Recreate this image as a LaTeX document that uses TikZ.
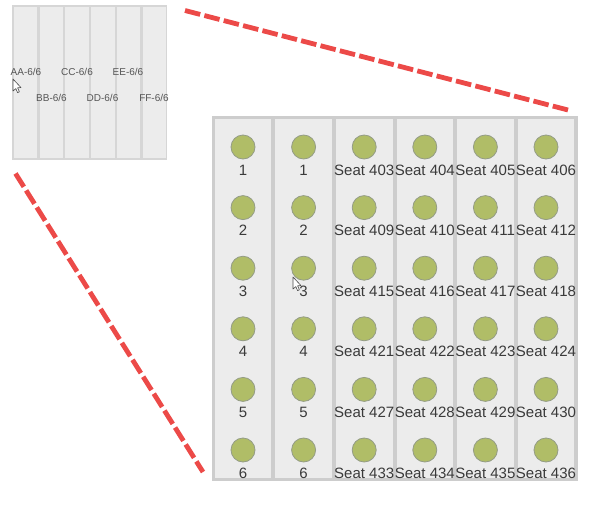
\documentclass[tikz,border=0pt]{standalone}
\usepackage{fontspec}
\setmainfont{Liberation Sans}
\usetikzlibrary{positioning}
\definecolor{frameGray}{HTML}{CDCDCD}
\definecolor{lightframe}{HTML}{D6D6D6}
\definecolor{rowGray}{HTML}{ECECEC}
\definecolor{seatGreen}{HTML}{B0BD67}
\definecolor{seatRim}{HTML}{949C86}
\definecolor{zoomRed}{HTML}{EC4A48}
\definecolor{seatText}{HTML}{3A3A3A}
\definecolor{blockText}{HTML}{555555}

\begin{document}
\begin{tikzpicture}[
        x=1pt, y=-1pt,
        panel/.style={rectangle, fill=frameGray, inner sep=0pt, outer sep=0pt},
        row/.style={rectangle, fill=rowGray, inner sep=0pt, outer sep=0pt},
        smallrow/.style={row, minimum width=23.6pt, minimum height=151pt},
        bigrow/.style={row, minimum width=56.6pt, minimum height=359pt},
        seat/.style={circle, draw=seatRim, line width=0.8pt, fill=seatGreen, minimum size=24pt, inner sep=0pt},
        seatlabel/.style={text=seatText, inner sep=0pt, font=\fontsize{15}{17}\selectfont},
        blocklabel/.style={text=blockText, inner sep=0pt, font=\fontsize{10}{12}\selectfont},
        zoomline/.style={zoomRed, line width=4.8pt, dash pattern=on 15.7pt off 4.3pt},
        pointer/.style={draw=black!70, fill=white, line width=0.6pt, line join=round}
    ]
        \useasboundingbox (0,0) rectangle (614,512);

        % overview block
        \node[panel, fill=lightframe, minimum width=155pt, minimum height=155pt] (overview) at (89.5,82.5) {};
        \foreach \i in {1,...,6}
            \node[smallrow] (block\i) at ({25.6+25.75*(\i-1)},82.5) {};
        \node[blocklabel] (labelAA) at (26,71.5) {AA-6/6};
        \node[blocklabel] (labelBB) at (51.5,97.5) {BB-6/6};
        \node[blocklabel] (labelCC) at (77,71.5) {CC-6/6};
        \node[blocklabel] (labelDD) at (102.5,97.5) {DD-6/6};
        \node[blocklabel] (labelEE) at (128,71.5) {EE-6/6};
        \node[blocklabel] (labelFF) at (154,97.5) {FF-6/6};

        % seat plan
        \node[panel, minimum width=366pt, minimum height=365pt] (plan) at (395,298.5) {};
        \foreach \c in {1,...,6}
            \node[bigrow] (col\c) at ({243+60.6*(\c-1)},298.5) {};
        \foreach \r in {1,...,6} {
            \foreach \c in {1,2} {
                \node[seat] (seat\c-\r) at ({243+60.6*(\c-1)},{147+60.6*(\r-1)}) {};
                \node[seatlabel, below=10.5pt of seat\c-\r.south, anchor=center] (num\c-\r) {\r};
            }
            \foreach \c in {3,...,6} {
                \pgfmathtruncatemacro{\seatno}{400+6*(\r-1)+\c}
                \node[seat] (seat\c-\r) at ({243+60.6*(\c-1)},{147+60.6*(\r-1)}) {};
                \node[seatlabel, below=10.5pt of seat\c-\r.south, anchor=center] (num\c-\r) {Seat \seatno};
            }
        }

        % zoom lines
        \coordinate (topstart) at (185,10.5);
        \coordinate (topend) at (568,110);
        \coordinate (leftstart) at (15.5,173.5);
        \coordinate (leftend) at (203,472);
        \draw[zoomline] (topstart) -- (topend);
        \draw[zoomline] (leftstart) -- (leftend);

        % mouse pointers
        \draw[pointer] (13,79) -- (13,91) -- (15.8,88.6) -- (17.6,92.6) -- (19.4,91.8) -- (17.6,87.8) -- (21,87.6) -- cycle;
        \draw[pointer] (293,277) -- (293,289) -- (295.8,286.6) -- (297.6,290.6) -- (299.4,289.8) -- (297.6,285.8) -- (301,285.6) -- cycle;
    \end{tikzpicture}
\end{document}
